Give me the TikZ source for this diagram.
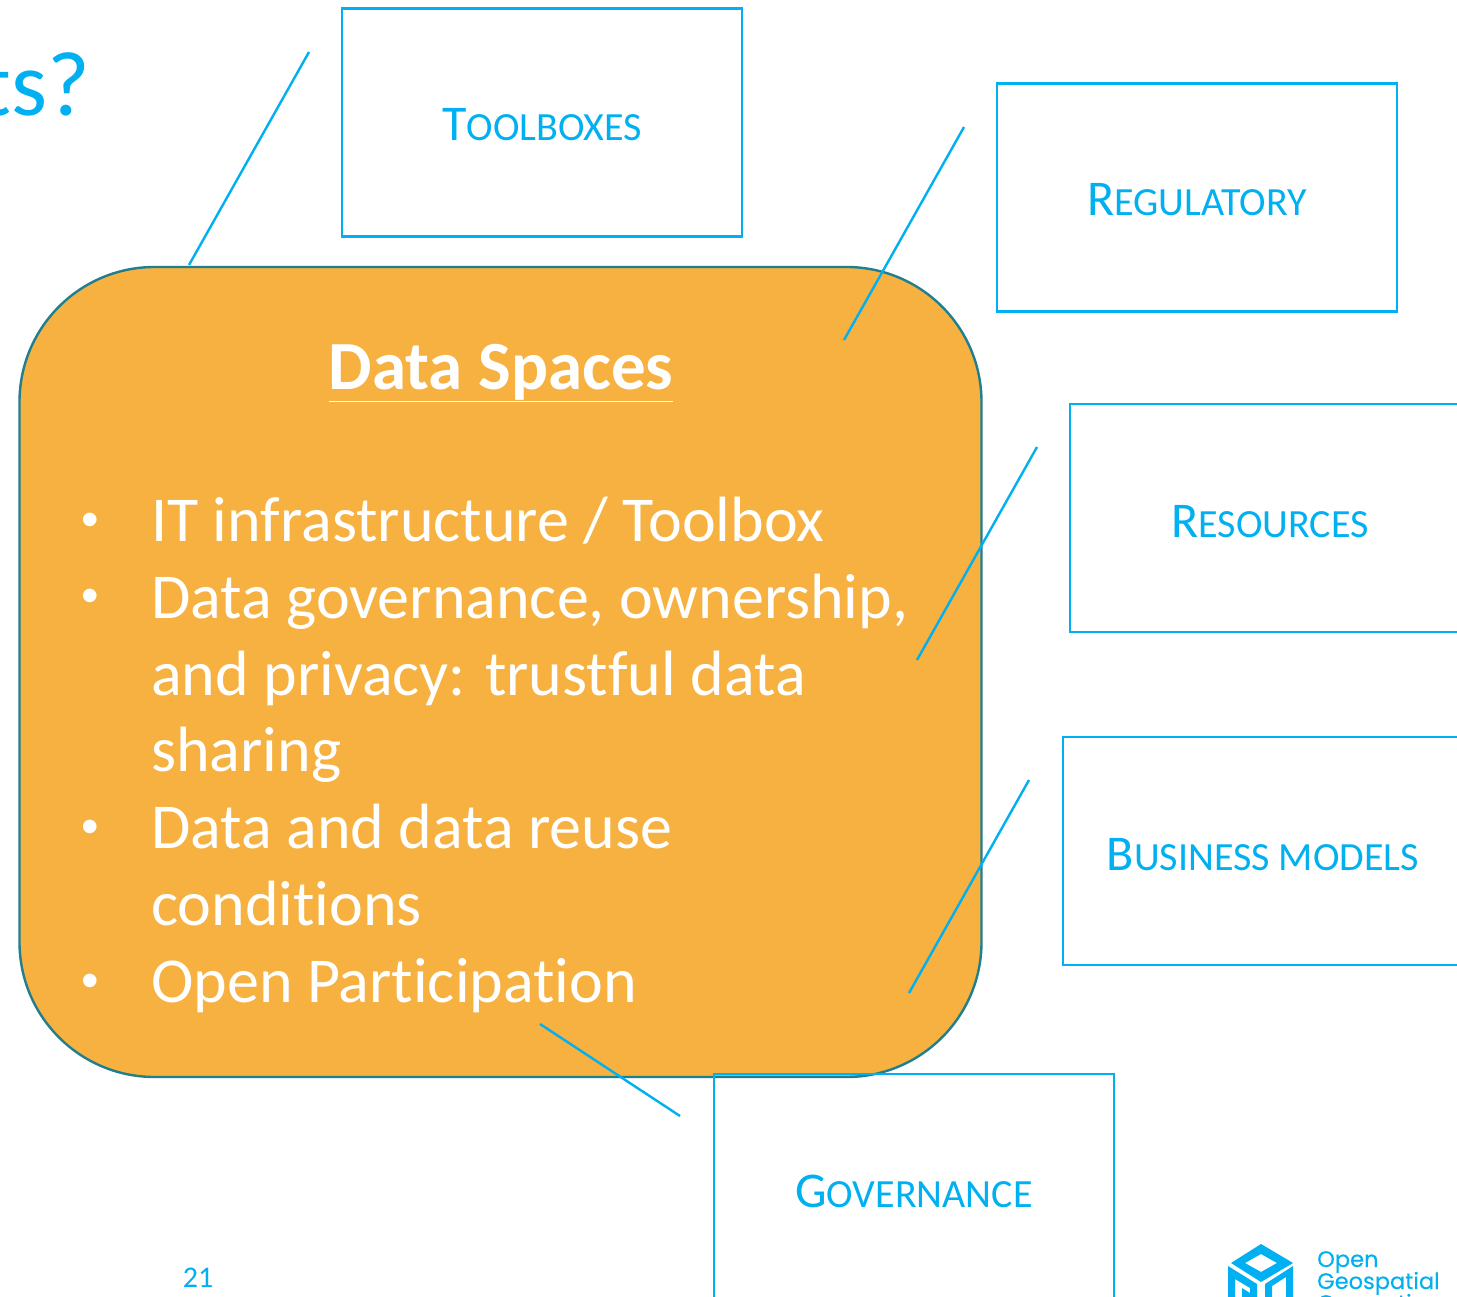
\documentclass[tikz,border=0pt]{standalone}
\usepackage{fontspec}
\setmainfont[Ligatures=NoCommon]{Carlito}
\newfontfamily\logofont[FakeBold=0.25]{Poppins}
\newfontfamily\bulletfont{Liberation Sans}
\definecolor{ogcblue}{HTML}{00B0F0}
\definecolor{fillorange}{HTML}{F6B141}
\definecolor{edgeteal}{HTML}{1F7F8F}
\newcommand{\capsbig}[2]{{\fontsize{50}{50}\selectfont #1}{\fontsize{40}{40}\selectfont\MakeUppercase{#2}}}
\tikzset{
  callbox/.style={draw=ogcblue,line width=2.6pt,minimum width=400pt,minimum height=228pt,inner sep=0pt},
  boxlabel/.style={text=ogcblue,inner sep=0pt,anchor=base},
  leader/.style={draw=ogcblue,line width=2.4pt},
  bodytext/.style={text=white,anchor=base west,inner sep=0pt,font=\fontsize{64}{64}\selectfont},
  bullet/.style={text=white,anchor=base,inner sep=0pt,font=\bulletfont\fontsize{50}{50}\selectfont},
  logotext/.style={anchor=base west,text=ogcblue,inner sep=0pt,font=\logofont\fontsize{22.5}{22.5}\selectfont},
}
\begin{document}
\begin{tikzpicture}[x=1pt,y=-1pt]
\useasboundingbox (0,0) rectangle (1457,1297);
\clip (0,0) rectangle (1457,1297);
\fill[white] (0,0) rectangle (1457,1297);
\node[anchor=base east,text=ogcblue,inner sep=0pt,font=\fontsize{92}{92}\selectfont] (title) at (90,116) {ts?};
% connector free ends
\coordinate (t1) at (309,52); \coordinate (t2) at (189,265);
\coordinate (r1) at (964,127); \coordinate (r2) at (844,340);
\coordinate (s1) at (1037,447); \coordinate (s2) at (917,660);
\coordinate (b1) at (1029,780); \coordinate (b2) at (909,993);
\coordinate (g1) at (680,1116); \coordinate (g2) at (540,1024);
% main block
\node[draw=edgeteal,line width=2.4pt,fill=fillorange,rounded corners=135pt,minimum width=962pt,minimum height=810pt,inner sep=0pt] (core) at (500.5,672) {};
% boxes
\node[callbox] (tool) at (542,122.5) {};
\node[callbox] (reg) at (1197,197.5) {};
\node[callbox] (res) at (1270,518) {};
\node[callbox] (bus) at (1263,851) {};
\node[callbox] (gov) at (914,1188) {};
\node[boxlabel] (toolt) at (542,141) {\capsbig{T}{oolboxes}};
\node[boxlabel] (regt) at (1197,216) {\capsbig{R}{egulatory}};
\node[boxlabel] (rest) at (1270,537) {\capsbig{R}{esources}};
\node[boxlabel] (bust) at (1263,870) {\capsbig{B}{usiness models}};
\node[boxlabel] (govt) at (914,1207) {\capsbig{G}{overnance}};
% leaders
\draw[leader] (t1) -- (t2);
\draw[leader] (r1) -- (r2);
\draw[leader] (s1) -- (s2);
\draw[leader] (b1) -- (b2);
\draw[leader] (g1) -- (g2);
% texts
\node[text=white,anchor=base,inner sep=0pt,font=\fontsize{69}{69}\selectfont\bfseries] (head) at (501,389) {\underline{Data Spaces}};
\node[bullet] (d1) at (90,536) {•};
\node[bullet] (d2) at (90,612) {•};
\node[bullet] (d3) at (90,843) {•};
\node[bullet] (d4) at (90,997) {•};
\node[bodytext] (l1) at (151,541) {IT infrastructure / Toolbox};
\node[bodytext] (l2) at (151,618) {Data governance, ownership,};
\node[bodytext] (l3) at (151,695) {and privacy: trustful data};
\node[bodytext] (l4) at (151,771) {sharing};
\node[bodytext] (l5) at (151,848) {Data and data reuse};
\node[bodytext] (l6) at (151,925) {conditions};
\node[bodytext] (l7) at (151,1002) {Open Participation};
\node[anchor=base,text=ogcblue,inner sep=0pt,font=\fontsize{30}{30}\selectfont] (page) at (198,1287) {21};
% logo
\fill[ogcblue,even odd rule] (1261,1244) -- (1293,1263) -- (1261,1282) -- (1231,1263) -- cycle
  (1261,1254) -- (1245,1263) -- (1261,1272) -- (1277,1263) -- cycle;
\fill[ogcblue] (1228,1266) -- (1257,1284) -- (1257,1297) -- (1250,1297) -- (1250,1288) -- (1235,1279) -- (1235,1297) -- (1228,1297) -- cycle;
\fill[ogcblue] (1293,1266) -- (1293,1297) -- (1286,1297) -- (1286,1277) -- (1272,1286) -- (1272,1297) -- (1265,1297) -- (1265,1284) -- cycle;
\fill[ogcblue] (1242,1288) -- (1250,1293) -- (1250,1297) -- (1242,1297) -- cycle;
\node[logotext] (lg1) at (1317,1267) {Open};
\node[logotext] (lg2) at (1317,1289) {Geospatial};
\node[logotext] (lg3) at (1317,1311) {Consortium};
\end{tikzpicture}
\end{document}
